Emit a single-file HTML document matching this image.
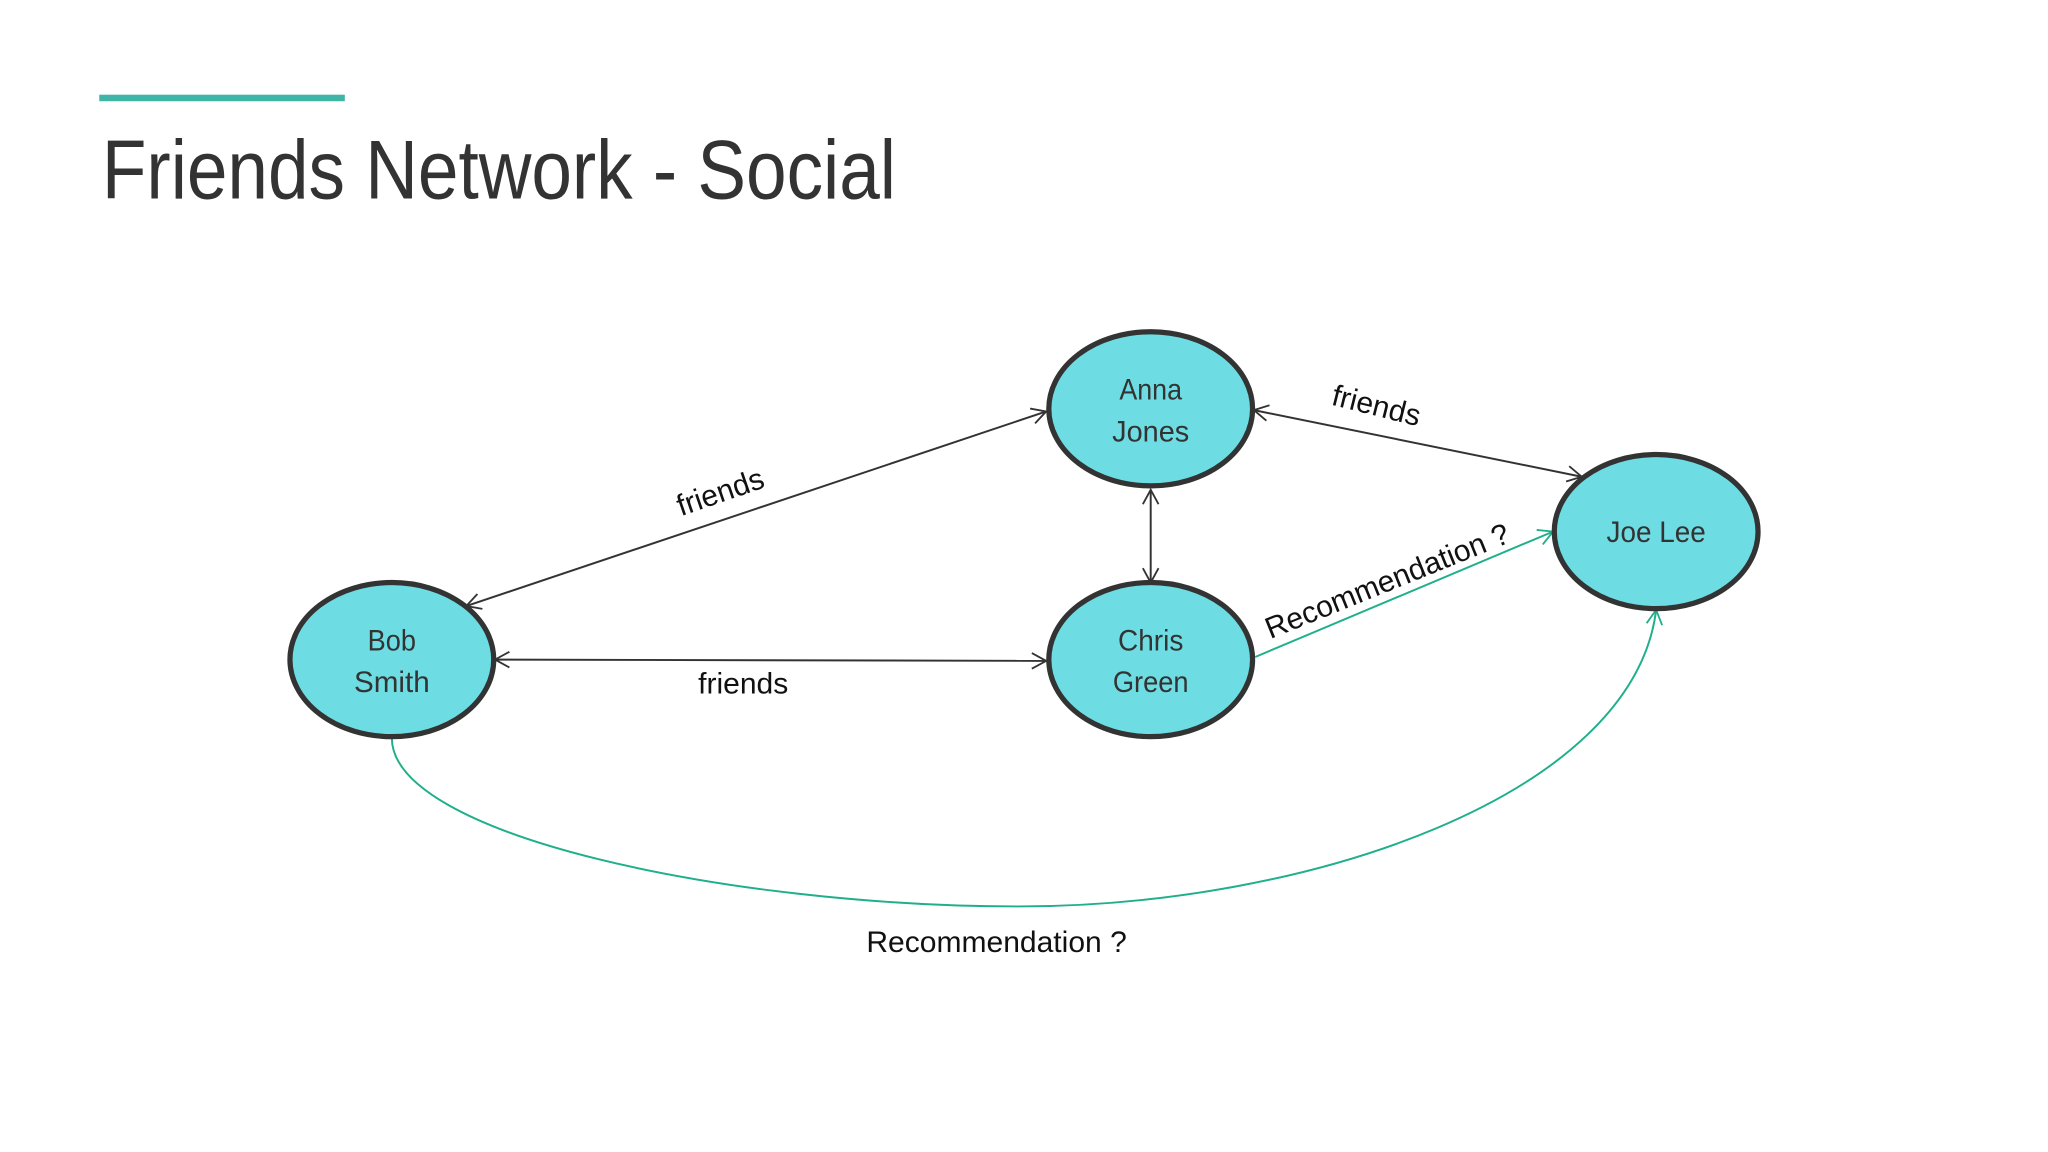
<!DOCTYPE html>
<html><head><style>html,body{margin:0;padding:0;background:#fff}svg{display:block}</style></head>
<body>
<svg width="2048" height="1152" viewBox="0 0 1568 882" xmlns="http://www.w3.org/2000/svg">
<defs>
<marker id="a" markerWidth="14" markerHeight="14" refX="12" refY="7" orient="auto-start-reverse" markerUnits="userSpaceOnUse"><path d="M1,1 L12,7 L1,13" fill="none" stroke="#333" stroke-width="1.4"/></marker>
<marker id="g" markerWidth="14" markerHeight="14" refX="12" refY="7" orient="auto-start-reverse" markerUnits="userSpaceOnUse"><path d="M1,1 L12,7 L1,13" fill="none" stroke="#1faf8a" stroke-width="1.4"/></marker>
</defs>
<rect x="0" y="0" width="1568" height="882" fill="#fff"/>
<rect x="76" y="72.5" width="188" height="5" fill="#3fb5a8"/>
<text x="78" y="152" font-family="Liberation Sans, sans-serif" font-size="64" fill="#333" textLength="608" lengthAdjust="spacingAndGlyphs">Friends Network - Social</text>
<g stroke="#333" stroke-width="1.5" fill="none">
<line x1="357" y1="464" x2="801" y2="315" marker-start="url(#a)" marker-end="url(#a)"/>
<line x1="960" y1="314" x2="1211" y2="365" marker-start="url(#a)" marker-end="url(#a)"/>
<line x1="881" y1="375" x2="881" y2="446" marker-start="url(#a)" marker-end="url(#a)"/>
<line x1="379" y1="505" x2="801" y2="506" marker-start="url(#a)" marker-end="url(#a)"/>
</g>
<g stroke="#1faf8a" stroke-width="1.5" fill="none">
<line x1="961" y1="503" x2="1189" y2="407" marker-end="url(#g)"/>
<path d="M300,565 C300,640 560,694 780,694 C1000,694 1250,610 1268,467" marker-end="url(#g)"/>
</g>
<g fill="#6ddde3" stroke="#333" stroke-width="4">
<ellipse cx="881" cy="313" rx="78" ry="59"/>
<ellipse cx="300" cy="505" rx="78" ry="59"/>
<ellipse cx="881" cy="505" rx="78" ry="59"/>
<ellipse cx="1268" cy="407" rx="78" ry="59"/>
</g>
<g font-family="Liberation Sans, sans-serif" font-size="23" fill="#333" text-anchor="middle">
<text x="881" y="306" textLength="48" lengthAdjust="spacingAndGlyphs">Anna</text>
<text x="881" y="338" textLength="59" lengthAdjust="spacingAndGlyphs">Jones</text>
<text x="300" y="498" textLength="37" lengthAdjust="spacingAndGlyphs">Bob</text>
<text x="300" y="530" textLength="58" lengthAdjust="spacingAndGlyphs">Smith</text>
<text x="881" y="498" textLength="50" lengthAdjust="spacingAndGlyphs">Chris</text>
<text x="881" y="530" textLength="58" lengthAdjust="spacingAndGlyphs">Green</text>
<text x="1268" y="415" textLength="76" lengthAdjust="spacingAndGlyphs">Joe Lee</text>
</g>
<g font-family="Liberation Sans, sans-serif" font-size="23" fill="#111" text-anchor="middle">
<text transform="translate(554,384) rotate(-19)">friends</text>
<text transform="translate(1052,318) rotate(14)">friends</text>
<text x="569" y="531">friends</text>
<text transform="translate(1065,452) rotate(-22)">Recommendation ?</text>
<text x="763" y="729">Recommendation ?</text>
</g>
</svg>
</body></html>
